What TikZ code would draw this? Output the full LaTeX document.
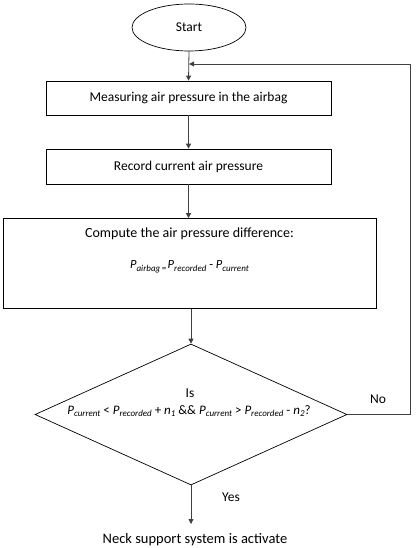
\documentclass[tikz,border=0pt]{standalone}
\usepackage{fontspec}
\setmainfont{Carlito}
\usetikzlibrary{shapes.geometric,arrows.meta}
\newcommand\Sb[1]{\raisebox{-0.45ex}{\fontsize{9}{10}\selectfont\textit{#1}}}
\newcommand\Pv[1]{\textit{P}\Sb{#1}}
\begin{document}
\begin{tikzpicture}[x=1pt,y=-1pt,
  boxst/.style={draw=black,line width=0.7pt,rectangle,inner sep=0pt,font=\fontsize{13.5}{15}\selectfont},
  conn/.style={draw=black!75,line width=0.8pt,-{Triangle[length=5pt,width=5pt]}},
  lbl/.style={inner sep=0pt,font=\fontsize{13.5}{15}\selectfont}]
\useasboundingbox (0,0) rectangle (416,548);
\fill[white] (0,0) rectangle (416,548);
\node[boxst,ellipse,minimum width=114pt,minimum height=47pt] (start) at (189,27.5) {Start};
\node[boxst,minimum width=285pt,minimum height=34pt] (b1) at (188.5,98) {Measuring air pressure in the airbag};
\node[boxst,minimum width=285pt,minimum height=35pt] (b2) at (188.5,166.5) {Record current air pressure};
\node[boxst,minimum width=373pt,minimum height=90pt] (b3) at (189.5,263.5) {};
\node[lbl,font=\fontsize{14}{16}\selectfont] (t3) at (189.5,234) {Compute the air pressure difference:};
\node[lbl,font=\fontsize{12.5}{14}\selectfont] (f3) at (189.5,267) {\Pv{airbag}\Sb{\,=\,}\Pv{recorded} - \Pv{current}};
\node[boxst,diamond,minimum width=312pt,minimum height=141pt] (d) at (191,414.5) {};
\node[lbl] (is) at (190,393) {Is};
\node[lbl,font=\fontsize{13}{15}\selectfont] (cond) at (189,411) {\Pv{current} < \Pv{recorded} + \textit{n}\Sb{1} \&\& \Pv{current} > \Pv{recorded} - \textit{n}\Sb{2}?};
\node[lbl] (no) at (378,399) {No};
\node[lbl] (yes) at (231,497) {Yes};
\node[lbl,anchor=north,font=\fontsize{14.5}{16}\selectfont] (neck) at (195,533) {Neck support system is activate};
\coordinate (j) at (189,64);
\coordinate (r1) at (410,414.5);
\coordinate (r2) at (410,64);
\coordinate (yend) at (191,524);
\draw[conn] (start.south) -- (b1.north);
\draw[conn] (b1.south) -- (b2.north);
\draw[conn] (b2.south) -- (b3.north -| b2.south);
\draw[conn] (b3.south -| d.north) -- (d.north);
\draw[conn] (d.east) -- (r1) -- (r2) -- (j);
\draw[conn] (d.south) -- (yend);
\end{tikzpicture}
\end{document}
